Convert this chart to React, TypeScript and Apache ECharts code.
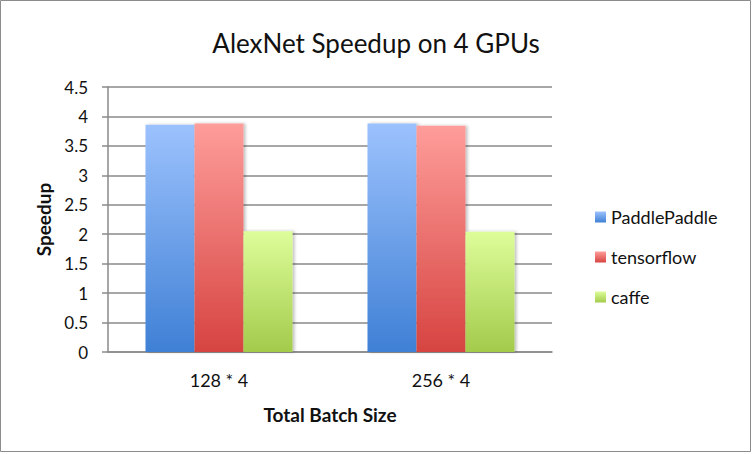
import React, { useEffect, useRef } from "react";
import * as echarts from "echarts";

const categories = ["128 * 4", "256 * 4"];
const seriesNames = ["PaddlePaddle", "tensorflow", "caffe"];
const paddleValues = [3.86, 3.88];
const tensorflowValues = [3.88, 3.84];
const caffeValues = [2.05, 2.04];
const yTicks = [0, 0.5, 1, 1.5, 2, 2.5, 3, 3.5, 4, 4.5];

const FONT = "Lato, 'Open Sans', sans-serif";

function grad(top: string, bottom: string) {
  return new echarts.graphic.LinearGradient(0, 0, 0, 1, [
    { offset: 0, color: top },
    { offset: 1, color: bottom },
  ]);
}

export default function App() {
  const ref = useRef<HTMLDivElement>(null);
  useEffect(() => {
    document.body.style.margin = "0";
    const chart = echarts.init(ref.current!, null, { renderer: "svg" });
    const colors = [
      grad("#9cc2fd", "#3f80d5"),
      grad("#fe9d9a", "#d64441"),
      grad("#ddfd9a", "#a3cb4b"),
    ];
    const data = [paddleValues, tensorflowValues, caffeValues];
    chart.setOption({
      animation: false,
      title: {
        text: "AlexNet Speedup on 4 GPUs",
        left: "center",
        top: 25,
        textStyle: { fontFamily: FONT, fontSize: 26, fontWeight: "normal", color: "#111" },
      },
      legend: {
        orient: "vertical",
        left: 590,
        top: 203,
        itemGap: 22,
        itemWidth: 11,
        itemHeight: 11,
        icon: "rect",
        textStyle: { fontFamily: FONT, fontSize: 18, color: "#111" },
        data: seriesNames,
      },
      graphic: [
        {
          type: "rect",
          shape: { x: 0.5, y: 0.5, width: 750, height: 451 },
          style: { fill: "none", stroke: "#8c8c8c", lineWidth: 1 },
          silent: true,
        },
      ],
      grid: { left: 108, right: 200, top: 87, bottom: 102 },
      xAxis: {
        type: "category",
        data: categories,
        name: "Total Batch Size",
        nameLocation: "middle",
        nameGap: 53,
        nameTextStyle: { fontFamily: FONT, fontSize: 19, fontWeight: "bold", color: "#111" },
        axisLine: { lineStyle: { color: "#8a8a8a", width: 1.5 } },
        axisTick: { show: false },
        axisLabel: { fontFamily: FONT, fontSize: 18, color: "#111", margin: 19 },
      },
      yAxis: {
        type: "value",
        min: 0,
        max: 4.5,
        interval: 0.5,
        name: "Speedup",
        nameLocation: "middle",
        nameGap: 54,
        nameTextStyle: { fontFamily: FONT, fontSize: 19, fontWeight: "bold", color: "#111" },
        axisLine: { show: true, lineStyle: { color: "#8a8a8a", width: 1.5 } },
        axisTick: { show: true, length: 6, lineStyle: { color: "#8a8a8a", width: 1.5 } },
        splitLine: { lineStyle: { color: "#8a8a8a", width: 1.5 } },
        axisLabel: {
          fontFamily: FONT,
          fontSize: 17,
          color: "#111",
          margin: 20,
          formatter: (v: number) => (yTicks.includes(v) ? String(v) : ""),
        },
      },
      series: seriesNames.map((name, i) => ({
        name,
        type: "bar",
        data: data[i],
        barWidth: 49,
        barGap: "0%",
        itemStyle: {
          color: colors[i],
          shadowBlur: 3,
          shadowOffsetX: 2,
          shadowOffsetY: 0,
          shadowColor: "rgba(0,0,0,0.25)",
        },
      })),
    });
    return () => chart.dispose();
  }, []);
  return <div ref={ref} style={{ width: 752, height: 454 }} />;
}
